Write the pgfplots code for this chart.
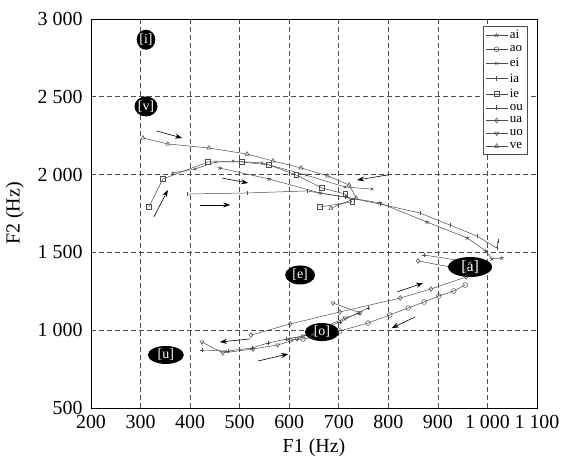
\documentclass[border=0pt]{standalone}
\usepackage{fontspec}
\setmainfont{Liberation Serif}
\usepackage{pgfplots}
\pgfplotsset{compat=1.18}
\usetikzlibrary{arrows.meta,shapes.geometric}

\begin{document}
\begin{tikzpicture}
\begin{axis}[
    scale only axis,
    width=446bp, height=389bp,
    xmin=200, xmax=1100, ymin=500, ymax=3000,
    xtick={200,300,...,1100},
    xticklabels={200,300,400,500,600,700,800,900,{1 000},{1 100}},
    ytick={500,1000,...,3000},
    yticklabels={500,{1 000},{1 500},{2 000},{2 500},{3 000}},
    tick label style={font=\fontsize{20}{20}\selectfont},
    xticklabel style={yshift=-4bp},
    yticklabel style={xshift=-5bp},
    major tick length=0pt,
    xlabel={F1 (Hz)}, ylabel={F2 (Hz)},
    label style={font=\fontsize{20}{20}\selectfont},
    xlabel style={yshift=-3bp},
    ylabel style={yshift=7bp},
    xmajorgrids, ymajorgrids,
    major grid style={black!70, line width=0.6bp, dash pattern=on 5bp off 3bp},
    axis line style={black, line width=0.9bp},
    unbounded coords=jump,
    every axis plot/.append style={black!70, line width=0.5bp, mark size=2.4bp, mark options={solid, line width=0.5bp}},
    legend style={at={(1,1)}, anchor=north east, xshift=-10bp, yshift=-7bp,
        font=\fontsize{13}{13}\selectfont, draw=black!70, fill=white,
        row sep=1.2bp, inner sep=2bp, cells={anchor=west}},
    legend image code/.code={\draw[mark repeat=2,mark phase=2] plot coordinates {(0bp,0bp) (11bp,0bp) (22bp,0bp)};},
]
% ai
\addplot[mark=star] coordinates {
  (460,2042) (559,1972) (662,1882) (783,1818) (878,1695) (959,1593) (997,1509) (1009,1458) (1029,1464)};
% ao
\addplot[mark=o] coordinates {
  (955,1290) (932,1252) (902,1220) (872,1181) (840,1143) (803,1098) (759,1046) (702,995) (648,956) (628,943) (602,937)};
% ei
\addplot[mark=x, mark size=1.9bp] coordinates {
  (365,2010) (410,2036) (452,2081) (487,2087) (545,2075) (634,1997) (713,1920) (767,1907)};
% ia
\addplot[mark=|] coordinates {
  (394,1875) (515,1882) (636,1895) (713,1856) (783,1811) (864,1753) (924,1676) (979,1605) (1019,1528) (1021,1573)};
% ie
\addplot[mark=square] coordinates {
  (317,1792) (345,1972) (436,2081) (505,2081) (559,2062) (614,1998) (666,1914) (713,1875) (727,1824) (662,1792)};
% ou
\addplot[mark=+] coordinates {
  (872,1483) (965,1438) (nan,nan)
  (759,1143) (739,1111) (702,1053) (648,976) (595,943) (557,918) (525,886) (476,866) (424,873)};
% ua
\addplot[mark=diamond] coordinates {
  (860,1445) (957,1387) (957,1342) (886,1265) (824,1207) (702,1117) (602,1040) (523,969)};
% uo
\addplot[mark=triangle, mark options={rotate=180}] coordinates {
  (424,924) (466,854) (527,879) (577,905) (616,944) (628,963) (713,1078) (743,1111) (688,1175)};
% ve
\addplot[mark=triangle] coordinates {
  (305,2235) (355,2197) (438,2171) (515,2132) (567,2088) (624,2043) (678,1991) (721,1933) (735,1850) (684,1784)};
\legend{ai,ao,ei,ia,ie,ou,ua,uo,ve}

% vowel targets
\tikzset{vt/.style={ellipse, fill=black, text=white, inner sep=0pt, font=\fontsize{14}{14}\selectfont}}
\node[vt, minimum width=15bp, minimum height=20bp] at (axis cs:311,2867) {[i]};
\node[vt, minimum width=15bp, minimum height=20bp] at (axis cs:311,2438) {[v]};
\node[vt, minimum width=30bp, minimum height=19bp] at (axis cs:622,1355) {[e]};
\node[vt, minimum width=44bp, minimum height=20bp, font=\fontsize{16}{16}\selectfont] at (axis cs:965,1406) {[a]};
\node[vt, minimum width=34bp, minimum height=18bp] at (axis cs:666,988) {[o]};
\node[vt, minimum width=36bp, minimum height=18bp] at (axis cs:351,841) {[u]};

% direction arrows
\tikzset{arr/.style={black, line width=0.6bp, -{Stealth[length=7bp,width=5bp]}}}
\draw[arr] (axis cs:333,2280) -- (axis cs:384,2235);
\draw[arr] (axis cs:327,1728) -- (axis cs:355,1901);
\draw[arr] (axis cs:420,1805) -- (axis cs:481,1805);
\draw[arr] (axis cs:464,1978) -- (axis cs:517,1946);
\draw[arr] (axis cs:799,1998) -- (axis cs:737,1965);
\draw[arr] (axis cs:818,1246) -- (axis cs:870,1303);
\draw[arr] (axis cs:854,1085) -- (axis cs:807,1014);
\draw[arr] (axis cs:521,944) -- (axis cs:460,924);
\draw[arr] (axis cs:537,802) -- (axis cs:598,847);
\end{axis}
\pgfresetboundingbox
\path[use as bounding box] (current axis.south west) ++(-91bp,-54bp) rectangle ++(567bp,462bp);
\end{tikzpicture}
\end{document}
